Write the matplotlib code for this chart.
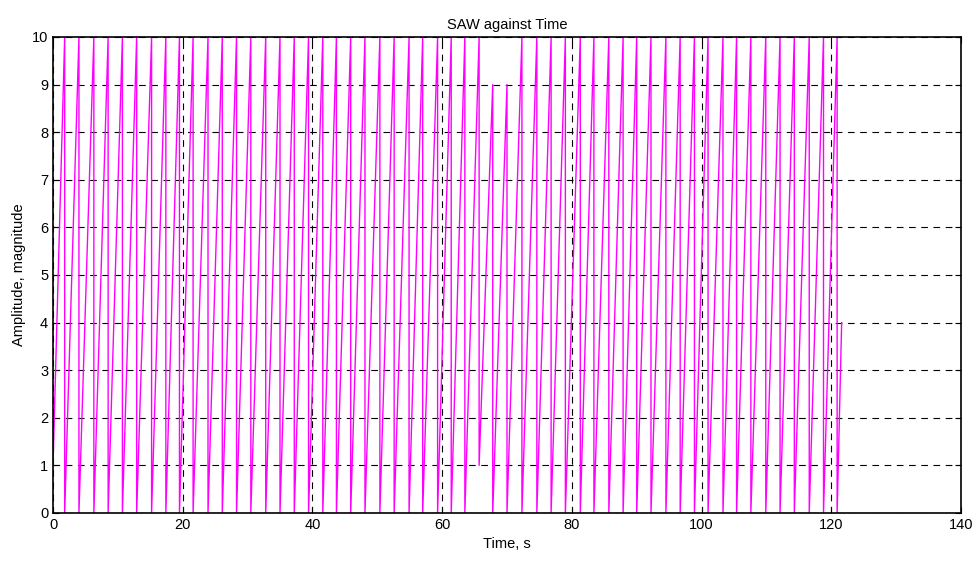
import matplotlib
matplotlib.use("Agg")
import matplotlib.pyplot as plt

plt.rcParams["font.family"] = ["Liberation Sans", "DejaVu Sans"]

# Sawtooth: time of each drop, value just before and after it
start_t, start_v = 0.0, 1.0
drop_t = [1.8, 4.0, 6.3, 8.5, 10.7, 12.9, 15.2, 17.4, 19.5, 21.6,
          23.9, 26.1, 28.3, 30.5, 32.8, 35.0, 37.2, 39.4, 41.6, 43.7,
          45.9, 48.1, 50.4, 52.6, 54.9, 57.0, 59.3, 61.4, 63.5, 65.7,
          67.8, 70.0, 72.3, 74.6, 76.8, 79.0, 81.3, 83.4, 85.7, 87.9,
          90.0, 92.2, 94.5, 96.7, 98.9, 101.0, 103.3, 105.4, 107.6, 109.9,
          112.1, 114.3, 116.6, 118.8, 120.9]
peak_v = [10] * 30 + [9, 9] + [10] * 23
trough_v = [0] * 29 + [1] + [0] * 25
end_t, end_v = 121.6, 4.0

x_ticks = list(range(0, 141, 20))
y_ticks = list(range(0, 11))

xs = [start_t]
ys = [start_v]
for t, p, q in zip(drop_t, peak_v, trough_v):
    xs += [t, t]
    ys += [p, q]
xs.append(end_t)
ys.append(end_v)

fig = plt.figure(figsize=(9.77, 5.61), dpi=100)
ax = fig.add_axes([53 / 977, 1 - 513 / 561, (961 - 53) / 977, (513 - 37) / 561])

ax.plot(xs, ys, color="#ff00ff", lw=1.0)

ax.set_xlim(0, 140)
ax.set_ylim(0, 10)
ax.set_xticks(x_ticks)
ax.set_yticks(y_ticks)
ax.grid(True, color="black", linestyle=(0, (6, 5)), linewidth=0.8)
ax.tick_params(direction="in", top=True, right=True, length=4, labelsize=10.5)
for s in ax.spines.values():
    s.set_linewidth(1.2)

ax.set_title("SAW against Time", fontsize=10.5)
ax.set_xlabel("Time, s", fontsize=10.5)
ax.set_ylabel("Amplitude, magnitude", fontsize=10.5)

fig.savefig("out.png", dpi=100)
